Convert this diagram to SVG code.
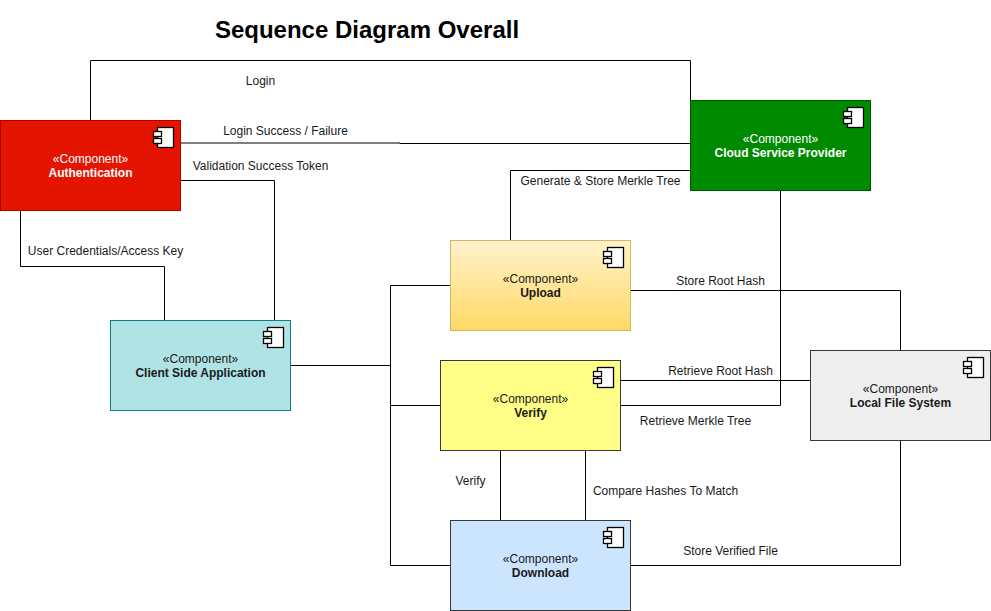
<svg xmlns="http://www.w3.org/2000/svg" width="991" height="611" viewBox="0 0 991 611">
<style>
text{font-family:"Liberation Sans",Arial,sans-serif;font-size:12px;fill:#1a1a1a}
.lab{text-anchor:middle}
.w{fill:#fff}
.b{font-weight:bold}
.title{font-size:24px;font-weight:bold;fill:#000;text-anchor:middle}
#connectors path{fill:none;stroke:#000;stroke-width:1}
.ic{fill:#fff;stroke:#000;stroke-width:1.3}
</style>
<defs>
<linearGradient id="gu" x1="0" y1="0" x2="0" y2="1"><stop offset="0" stop-color="#fff2cc"/><stop offset="1" stop-color="#ffd966"/></linearGradient>
<g id="icon">
<rect class="ic" x="157.5" y="7.5" width="16" height="20"/>
<rect class="ic" x="153.5" y="11.5" width="8" height="5"/>
<rect class="ic" x="153.5" y="18.5" width="8" height="5"/>
</g>
</defs>
<rect width="991" height="611" fill="#fff"/>
<text class="title" x="367" y="38">Sequence Diagram Overall</text>
<g id="connectors">
<path d="M90.5 120V60.5H690.5V100"/>
<path d="M180 143H400V143.500H690"/>
<path d="M180 180.500H274.500V320"/>
<path d="M20.500 210V266.500H164.500V320"/>
<path d="M690 170.500H510.500V240"/>
<path d="M780.500 190V405.500H620"/>
<path d="M630 290.500H900.500V350"/>
<path d="M620 380.500H810"/>
<path d="M290 365.500H390.500"/>
<path d="M450 285.500H390.500V565.500H450"/>
<path d="M390.500 405.500H440"/>
<path d="M500.500 450V520"/>
<path d="M585.500 450V520"/>
<path d="M630 565.500H900.500V440"/>
</g>
<g id="connector-labels">
<text class="lab" x="260.500" y="85">Login</text>
<text class="lab" x="285.500" y="135">Login Success / Failure</text>
<text class="lab" x="260.500" y="170">Validation Success Token</text>
<text class="lab" x="105.500" y="255">User Credentials/Access Key</text>
<text class="lab" x="600.500" y="185">Generate &amp; Store Merkle Tree</text>
<text class="lab" x="720.500" y="285">Store Root Hash</text>
<text class="lab" x="720.500" y="375">Retrieve Root Hash</text>
<text class="lab" x="695.500" y="425">Retrieve Merkle Tree</text>
<text class="lab" x="470.500" y="485">Verify</text>
<text class="lab" x="665.500" y="495">Compare Hashes To Match</text>
<text class="lab" x="730.500" y="555">Store Verified File</text>
</g>
<g id="auth" transform="translate(0 120)">
<rect x="0.500" y="0.500" width="180" height="90" fill="#e51400" stroke="#b20000"/>
<use href="#icon"/>
<text class="lab w" x="90.500" y="43">«Component»</text>
<text class="lab w b" x="90.500" y="57">Authentication</text>
</g>
<g id="cloud" transform="translate(690 100)">
<rect x="0.500" y="0.500" width="180" height="90" fill="#008a00" stroke="#005700"/>
<use href="#icon"/>
<text class="lab w" x="90.500" y="43">«Component»</text>
<text class="lab w b" x="90.500" y="57">Cloud Service Provider</text>
</g>
<g id="upload" transform="translate(450 240)">
<rect x="0.500" y="0.500" width="180" height="90" fill="url(#gu)" stroke="#d6b656"/>
<use href="#icon"/>
<text class="lab" x="90.500" y="43">«Component»</text>
<text class="lab b" x="90.500" y="57">Upload</text>
</g>
<g id="client" transform="translate(110 320)">
<rect x="0.500" y="0.500" width="180" height="90" fill="#b0e3e6" stroke="#0e8088"/>
<use href="#icon"/>
<text class="lab" x="90.500" y="43">«Component»</text>
<text class="lab b" x="90.500" y="57">Client Side Application</text>
</g>
<g id="verify" transform="translate(440 360)">
<rect x="0.500" y="0.500" width="180" height="90" fill="#ffff88" stroke="#36393d"/>
<use href="#icon"/>
<text class="lab" x="90.500" y="43">«Component»</text>
<text class="lab b" x="90.500" y="57">Verify</text>
</g>
<g id="local" transform="translate(810 350)">
<rect x="0.500" y="0.500" width="180" height="90" fill="#eeeeee" stroke="#36393d"/>
<use href="#icon"/>
<text class="lab" x="90.500" y="43">«Component»</text>
<text class="lab b" x="90.500" y="57">Local File System</text>
</g>
<g id="download" transform="translate(450 520)">
<rect x="0.500" y="0.500" width="180" height="90" fill="#cce5ff" stroke="#36393d"/>
<use href="#icon"/>
<text class="lab" x="90.500" y="43">«Component»</text>
<text class="lab b" x="90.500" y="57">Download</text>
</g>
</svg>
